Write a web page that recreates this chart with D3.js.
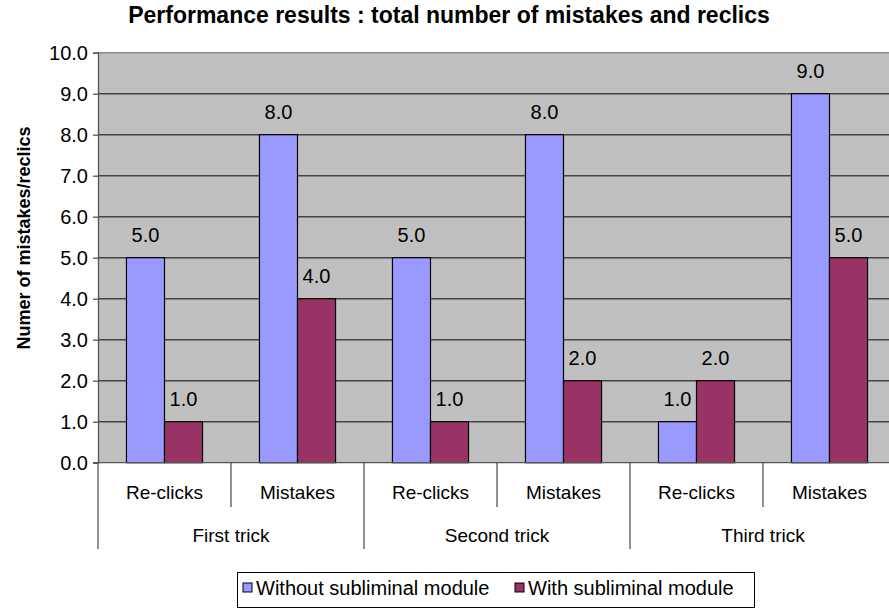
<!DOCTYPE html>
<html lang="en">
  <head>
    <meta charset="UTF-8" />
    <title>Performance results</title>
    <script src="https://d3js.org/d3.v7.min.js"></script>
    <style>
      body {
        margin: 0;
        background: #fff;
        font-family: 'Liberation Sans', Arial, sans-serif;
      }
      svg {
        display: block;
      }
    </style>
  </head>
  <body>
    <div id="chart"></div>
    <script>
      const groups = ['First trick', 'Second trick', 'Third trick'];
      const measures = ['Re-clicks', 'Mistakes'];
      const seriesNames = ['Without subliminal module', 'With subliminal module'];
      const withoutModule = [5, 8, 5, 8, 1, 9];
      const withModule = [1, 4, 1, 2, 2, 5];
      const yTicks = [0, 1, 2, 3, 4, 5, 6, 7, 8, 9, 10];
      const colors = ['#9999ff', '#993366'];

      const W = 889;
      const H = 609;
      const plot = { left: 98, right: 896, top: 52.7, bottom: 462.7 };
      const fs = '19px';

      const svg = d3
        .select('#chart')
        .append('svg')
        .attr('width', W)
        .attr('height', H)
        .style('font-family', "'Liberation Sans', Arial, sans-serif");

      // leaf categories: group x measure
      const leaves = [];
      groups.forEach(g => measures.forEach(m => leaves.push({ g, m, key: g + '|' + m })));

      const x = d3
        .scaleBand()
        .domain(leaves.map(d => d.key))
        .range([plot.left, plot.right])
        .padding(0);
      const bw = x.bandwidth();

      const xs = d3
        .scaleBand()
        .domain(seriesNames)
        .range([bw * 0.214, bw * 0.786])
        .padding(0);

      const y = d3.scaleLinear().domain([0, 10]).range([plot.bottom, plot.top]);

      // plot background
      svg
        .append('rect')
        .attr('x', plot.left)
        .attr('y', plot.top)
        .attr('width', plot.right - plot.left)
        .attr('height', plot.bottom - plot.top)
        .attr('fill', '#c0c0c0');

      // gridlines
      svg
        .append('g')
        .selectAll('line')
        .data(yTicks.filter(t => t > 0))
        .enter()
        .append('line')
        .attr('x1', plot.left)
        .attr('x2', plot.right)
        .attr('y1', d => y(d))
        .attr('y2', d => y(d))
        .attr('stroke', d => (d === 10 ? '#8a8a8a' : '#444'))
        .attr('stroke-width', 1.4);

      // y axis
      const yAxis = svg
        .append('g')
        .attr('transform', `translate(${plot.left},0)`)
        .call(
          d3
            .axisLeft(y)
            .tickValues(yTicks)
            .tickSize(5)
            .tickPadding(5)
            .tickFormat(d3.format('.1f'))
        );
      yAxis.select('.domain').attr('stroke', '#555').attr('stroke-width', 1.3);
      yAxis.selectAll('.tick line').attr('stroke', '#555').attr('stroke-width', 1.3);
      yAxis
        .selectAll('.tick text')
        .attr('fill', '#000')
        .style('font-size', '20px')
        .style('font-family', "'Liberation Sans', Arial, sans-serif");

      // bars
      const data = [];
      leaves.forEach((l, i) => {
        data.push({ key: l.key, s: seriesNames[0], v: withoutModule[i], c: colors[0] });
        data.push({ key: l.key, s: seriesNames[1], v: withModule[i], c: colors[1] });
      });

      const barG = svg.append('g');
      barG
        .selectAll('rect')
        .data(data)
        .enter()
        .append('rect')
        .attr('x', d => x(d.key) + xs(d.s))
        .attr('y', d => y(d.v))
        .attr('width', xs.bandwidth())
        .attr('height', d => y(0) - y(d.v))
        .attr('fill', d => d.c)
        .attr('stroke', '#000')
        .attr('stroke-width', 1.2);

      barG
        .selectAll('text')
        .data(data)
        .enter()
        .append('text')
        .attr('x', d => x(d.key) + xs(d.s) + xs.bandwidth() / 2)
        .attr('y', d => y(d.v) - 16)
        .attr('text-anchor', 'middle')
        .style('font-size', '20px')
        .text(d => d3.format('.1f')(d.v));

      // x axis baseline
      svg
        .append('line')
        .attr('x1', plot.left - 5)
        .attr('x2', plot.right)
        .attr('y1', y(0))
        .attr('y2', y(0))
        .attr('stroke', '#555')
        .attr('stroke-width', 1.3);

      // category separators
      const sepG = svg.append('g').attr('stroke', '#555').attr('stroke-width', 1.3);
      leaves.forEach((l, i) => {
        const xx = x(l.key);
        const isGroupEdge = i % measures.length === 0;
        sepG
          .append('line')
          .attr('x1', xx)
          .attr('x2', xx)
          .attr('y1', y(0))
          .attr('y2', isGroupEdge ? 549 : 507);
      });

      // leaf labels
      svg
        .append('g')
        .selectAll('text')
        .data(leaves)
        .enter()
        .append('text')
        .attr('x', d => x(d.key) + bw / 2)
        .attr('y', 499)
        .attr('text-anchor', 'middle')
        .style('font-size', fs)
        .text(d => d.m);

      // group labels
      svg
        .append('g')
        .selectAll('text')
        .data(groups)
        .enter()
        .append('text')
        .attr('x', (g, i) => x(leaves[i * measures.length].key) + bw)
        .attr('y', 542)
        .attr('text-anchor', 'middle')
        .style('font-size', fs)
        .text(d => d);

      // title
      svg
        .append('text')
        .attr('x', 449)
        .attr('y', 23)
        .attr('text-anchor', 'middle')
        .style('font-size', '23px')
        .style('font-weight', 'bold')
        .text('Performance results : total number of mistakes and reclics');

      // y label
      svg
        .append('text')
        .attr('transform', 'translate(30,238) rotate(-90)')
        .attr('text-anchor', 'middle')
        .style('font-size', '18px')
        .style('font-weight', 'bold')
        .text('Numer of mistakes/reclics');

      // legend
      const legend = svg.append('g');
      legend
        .append('rect')
        .attr('x', 237.5)
        .attr('y', 572.5)
        .attr('width', 517)
        .attr('height', 35)
        .attr('fill', '#fff')
        .attr('stroke', '#000')
        .attr('stroke-width', 1);

      const legendX = [243, 515];
      seriesNames.forEach((s, i) => {
        legend
          .append('rect')
          .attr('x', legendX[i])
          .attr('y', 583)
          .attr('width', 9)
          .attr('height', 9)
          .attr('fill', colors[i])
          .attr('stroke', '#000')
          .attr('stroke-width', 1);
        legend
          .append('text')
          .attr('x', legendX[i] + 13)
          .attr('y', 595)
          .style('font-size', '20px')
          .text(s);
      });
    </script>
  </body>
</html>
